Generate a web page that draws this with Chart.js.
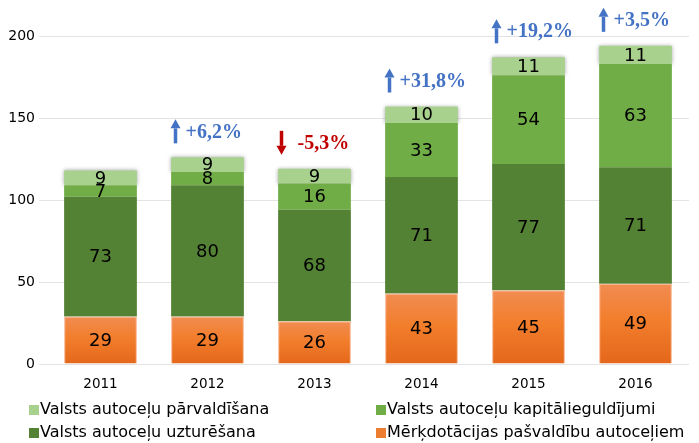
<!DOCTYPE html>
<html>
<head>
<meta charset="utf-8">
<script src="https://cdn.jsdelivr.net/npm/chart.js@4"></script>
<style>
  body { margin: 0; background: #fff; }
  #wrap { width: 699px; height: 443px; position: relative; }
</style>
</head>
<body>
<div id="wrap"><canvas id="canvas" width="699" height="443"></canvas></div>
<script>
const years = ['2011', '2012', '2013', '2014', '2015', '2016'];
const merkdotacijas = [29, 29, 26, 43, 45, 49];
const uzturesana = [73, 80, 68, 71, 77, 71];
const kapitalieguldijumi = [7, 8, 16, 33, 54, 63];
const parvaldisana = [9, 9, 9, 10, 11, 11];
const changes = [null, '+6,2%', '-5,3%', '+31,8%', '+19,2%', '+3,5%'];
const yTicks = [0, 50, 100, 150, 200];

const legendItems = [
  { text: 'Valsts autoceļu pārvaldīšana', color: '#A9D18E' },
  { text: 'Valsts autoceļu kapitālieguldījumi', color: '#70AD47' },
  { text: 'Valsts autoceļu uzturēšana', color: '#548235' },
  { text: 'Mērķdotācijas pašvaldību autoceļiem', color: '#ED7D31' }
];

function orangeFill(context){
  const chart = context.chart;
  const y = chart.scales.y;
  if(!y || context.dataIndex === undefined) return '#ED7D31';
  const top = y.getPixelForValue(merkdotacijas[context.dataIndex]);
  const base = y.getPixelForValue(0);
  if(!isFinite(top) || !isFinite(base) || top == base) return '#ED7D31';
  const g = chart.ctx.createLinearGradient(0, top, 0, base);
  g.addColorStop(0, '#F18C52');
  g.addColorStop(0.45, '#F27E2C');
  g.addColorStop(1, '#E4671B');
  return g;
}

const topShadow = {
  id: 'topShadow',
  beforeDatasetDraw(chart, args){
    if(args.index == 3){
      chart.ctx.save();
      chart.ctx.shadowColor = 'rgba(0,0,0,0.35)';
      chart.ctx.shadowBlur = 4;
      chart.ctx.shadowOffsetX = 0;
      chart.ctx.shadowOffsetY = 0;
    }
  },
  afterDatasetDraw(chart, args){
    if(args.index == 3) chart.ctx.restore();
  }
};

const valueLabels = {
  id: 'valueLabels',
  afterDatasetsDraw(chart){
    const ctx = chart.ctx;
    ctx.save();
    ctx.font = '18px "DejaVu Sans"';
    ctx.fillStyle = '#000';
    ctx.textAlign = 'center';
    ctx.textBaseline = 'middle';
    chart.data.datasets.forEach(function(ds, di){
      const meta = chart.getDatasetMeta(di);
      meta.data.forEach(function(bar, i){
        const mid = (bar.y + bar.base) / 2;
        ctx.fillText(String(ds.data[i]), bar.x, mid + 1);
      });
    });

    // change annotations above the bars
    const top = chart.getDatasetMeta(3);
    changes.forEach(function(txt, i){
      if(!txt) return;
      const bar = top.data[i];
      const up = txt[0] == '+';
      const color = up ? '#4472C4' : '#C00000';
      const cy = bar.y - 26;
      ctx.font = 'bold 20px "Liberation Serif"';
      ctx.textAlign = 'left';
      ctx.fillStyle = color;
      const tx = bar.x + (up ? -22 : -17);
      ctx.fillText(txt, tx, cy + 1);
      const ax = up ? tx - 10 : tx - 16;
      ctx.strokeStyle = color;
      ctx.lineWidth = 3.5;
      ctx.beginPath();
      if(up){
        ctx.moveTo(ax, cy + 12);
        ctx.lineTo(ax, cy - 3);
        ctx.stroke();
        ctx.beginPath();
        ctx.moveTo(ax - 5, cy - 3);
        ctx.lineTo(ax + 5, cy - 3);
        ctx.lineTo(ax, cy - 12);
      } else {
        ctx.moveTo(ax, cy - 12);
        ctx.lineTo(ax, cy + 3);
        ctx.stroke();
        ctx.beginPath();
        ctx.moveTo(ax - 5, cy + 3);
        ctx.lineTo(ax + 5, cy + 3);
        ctx.lineTo(ax, cy + 12);
      }
      ctx.closePath();
      ctx.fill();
    });
    ctx.restore();
  }
};

const bottomLegend = {
  id: 'bottomLegend',
  afterDraw(chart){
    const ctx = chart.ctx;
    ctx.save();
    ctx.font = '16px "DejaVu Sans"';
    ctx.textBaseline = 'middle';
    ctx.textAlign = 'left';
    const cols = [29, 376];
    const rows = [410, 433];
    legendItems.forEach(function(item, i){
      const x = cols[i % 2];
      const y = rows[Math.floor(i / 2)];
      ctx.fillStyle = item.color;
      ctx.fillRect(x, y - 5, 10, 10);
      ctx.fillStyle = '#000';
      ctx.fillText(item.text, x + 11, y);
    });
    ctx.restore();
  }
};

new Chart(document.getElementById('canvas'), {
  type: 'bar',
  plugins: [topShadow, valueLabels, bottomLegend],
  data: {
    labels: years,
    datasets: [
      {
        label: 'Mērķdotācijas pašvaldību autoceļiem',
        data: merkdotacijas,
        backgroundColor: orangeFill,
        borderColor: '#F6B48C',
        borderWidth: 1,
        barPercentage: 0.68,
        categoryPercentage: 1
      },
      {
        label: 'Valsts autoceļu uzturēšana',
        data: uzturesana,
        backgroundColor: '#548235',
        borderWidth: 0,
        barPercentage: 0.68,
        categoryPercentage: 1
      },
      {
        label: 'Valsts autoceļu kapitālieguldījumi',
        data: kapitalieguldijumi,
        backgroundColor: '#70AD47',
        borderWidth: 0,
        barPercentage: 0.68,
        categoryPercentage: 1
      },
      {
        label: 'Valsts autoceļu pārvaldīšana',
        data: parvaldisana,
        backgroundColor: '#A9D18E',
        borderWidth: 0,
        barPercentage: 0.68,
        categoryPercentage: 1
      }
    ]
  },
  options: {
    responsive: false,
    animation: false,
    layout: { padding: { top: 36, right: 10, left: 0, bottom: 0 } },
    plugins: {
      legend: { display: false },
      tooltip: { enabled: false }
    },
    scales: {
      x: {
        stacked: true,
        grid: { display: false },
        border: { display: false },
        afterFit: function(axis){ axis.height = 79; },
        ticks: { color: '#000', font: { family: 'DejaVu Sans', size: 13.5 }, padding: 4 }
      },
      y: {
        stacked: true,
        min: 0,
        max: 200,
        afterBuildTicks: function(axis){
          axis.ticks = yTicks.map(v => ({ value: v }));
        },
        afterFit: function(axis){ axis.width = 47; },
        grid: { color: '#E3E3E3', lineWidth: 1 },
        border: { display: false },
        ticks: { color: '#000', font: { family: 'DejaVu Sans', size: 14 }, padding: 4 }
      }
    }
  }
});
</script>
</body>
</html>
